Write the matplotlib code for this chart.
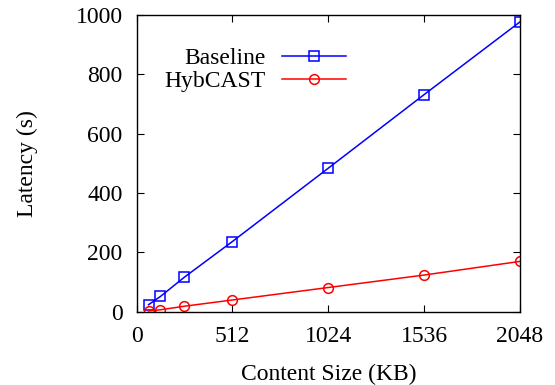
import matplotlib
matplotlib.use('Agg')
import matplotlib.pyplot as plt

# content sizes in KB
sizes = [64, 128, 256, 512, 1024, 1536, 2048]
baseline = [24, 52, 117, 237, 484, 732, 977]
hybcast = [3, 7, 19, 40, 82, 124, 170]

x_ticks = [0, 512, 1024, 1536, 2048]
y_ticks = [0, 200, 400, 600, 800, 1000]

plt.rcParams['font.family'] = ['Liberation Serif', 'DejaVu Serif']
fs = 17

fig = plt.figure(figsize=(5.55, 3.85), dpi=100)
ax = fig.add_axes([0.246, 0.19, 0.691, 0.771])

ax.plot(sizes, baseline, color='#0000ff', lw=1.1, marker='s', ms=7,
        mfc='none', mec='#0000ff', mew=1.1, label='Baseline')
ax.plot(sizes, hybcast, color='#ff0000', lw=1.1, marker='o', ms=7,
        mfc='none', mec='#ff0000', mew=1.1, label='HybCAST')

ax.set_xlim(0, 2048)
ax.set_ylim(0, 1000)
ax.set_xticks(x_ticks)
ax.set_yticks(y_ticks)
ax.tick_params(direction='in', top=True, right=True, length=5, width=0.8, labelsize=fs)
ax.tick_params(axis='y', pad=10)
ax.tick_params(axis='x', pad=10)
for s in ax.spines.values():
    s.set_linewidth(1.0)

ax.set_xlabel('Content Size (KB)', fontsize=fs, labelpad=12)
ax.set_ylabel('Latency (s)', fontsize=fs, labelpad=27)

ax.legend(loc='upper right', bbox_to_anchor=(0.546, 0.89), frameon=False,
          markerfirst=False, numpoints=1, handlelength=2.7, handletextpad=0.7,
          labelspacing=0.05, borderpad=0, borderaxespad=0, fontsize=fs)

fig.savefig('out.png', dpi=100)
